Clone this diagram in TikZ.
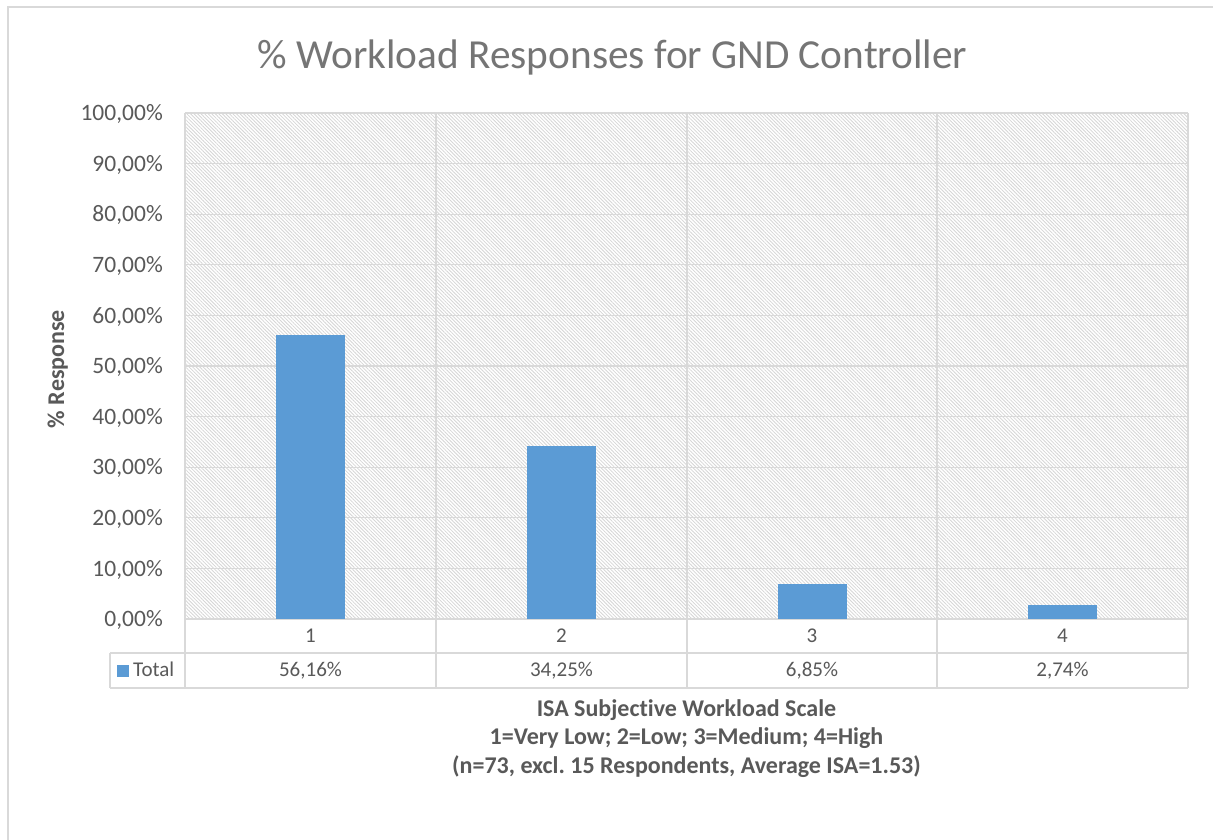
\documentclass[tikz,border=0pt]{standalone}
\usepackage{fontspec}
\setmainfont{Carlito}[Ligatures=NoCommon]
\frenchspacing
\usetikzlibrary{patterns.meta}
\definecolor{barblue}{HTML}{5B9BD5}
\definecolor{gridgray}{HTML}{D9D9D9}
\definecolor{hatchgray}{HTML}{D6D6D6}
\definecolor{txtgray}{HTML}{595959}
\definecolor{titlegray}{HTML}{757575}
\tikzset{
  frameline/.style={draw=gridgray, line width=2pt},
  gridline/.style={draw=gridgray, line width=1.3pt},
  ticklabel/.style={text=txtgray, inner sep=0pt, anchor=base east, font=\fontsize{23.5}{28}\selectfont},
  celltext/.style={text=txtgray, inner sep=0pt, anchor=base, font=\fontsize{21}{25}\selectfont},
  axistitle/.style={text=txtgray, inner sep=0pt, anchor=base, font=\bfseries\fontsize{24}{28}\selectfont},
  charttitle/.style={text=titlegray, inner sep=0pt, anchor=base, font=\fontsize{41.3}{48}\selectfont},
  bar/.style={fill=barblue}
}
\begin{document}
\begin{tikzpicture}[x=1pt,y=-1pt]
\useasboundingbox (0,0) rectangle (1213,839);
\fill[white] (0,0) rectangle (1213,839);

% chart frame (open on the right and bottom)
\draw[frameline] (8,845) -- (8,7) -- (1220,7);

% hatched plot area
\fill[pattern={Lines[angle=-45,distance=2.5pt,line width=0.8pt]}, pattern color=hatchgray]
  (185,113) rectangle (1188,619);

% horizontal gridlines and value axis labels
\foreach \v [count=\i from 0] in {0,10,20,30,40,50,60,70,80,90,100} {
  \pgfmathsetmacro{\yy}{619-50.6*\i}
  \draw[gridline] (185,\yy) -- (1188,\yy);
  \node[ticklabel] (tick\i) at (163,\yy+7.6) {\v,00\%};
}

% category separators running through plot and data table
\foreach \xx in {185,436,687,937,1188} {
  \draw[gridline] (\xx,113) -- (\xx,688);
}
\draw[gridline] (110,653) -- (1188,653);
\draw[gridline] (110,688) -- (1188,688);
\draw[gridline] (110,653) -- (110,688);

% bars
\foreach \cx/\val in {310.5/56.16, 561.5/34.25, 812/6.85, 1062.5/2.74} {
  \fill[bar] (\cx-34.5,619) rectangle (\cx+34.5,619-5.06*\val);
}

% data table: category row and value row
\node[celltext] (cat1) at (310.5,642.7) {1};
\node[celltext] (cat2) at (561.5,642.7) {2};
\node[celltext] (cat3) at (812,642.7) {3};
\node[celltext] (cat4) at (1062.5,642.7) {4};
\node[celltext] (val1) at (310.5,676.7) {56,16\%};
\node[celltext] (val2) at (561.5,676.7) {34,25\%};
\node[celltext] (val3) at (812,676.7) {6,85\%};
\node[celltext] (val4) at (1062.5,676.7) {2,74\%};

% legend key
\fill[barblue] (117,665) rectangle (129,677);
\node[celltext, anchor=base west] (legend) at (133,676.7) {Total};

% titles
\node[charttitle] (title) at (612.5,68) {\% Workload Responses for GND Controller};
\node[axistitle, rotate=90] (ytitle) at (64,369) {\% Response};
\node[axistitle] (xtitle1) at (686.5,716) {ISA Subjective Workload Scale};
\node[axistitle] (xtitle2) at (686.5,744.5) {1=Very Low; 2=Low; 3=Medium; 4=High};
\node[axistitle] (xtitle3) at (686.5,773) {(n=73, excl. 15 Respondents, Average ISA=1.53)};
\end{tikzpicture}
\end{document}
